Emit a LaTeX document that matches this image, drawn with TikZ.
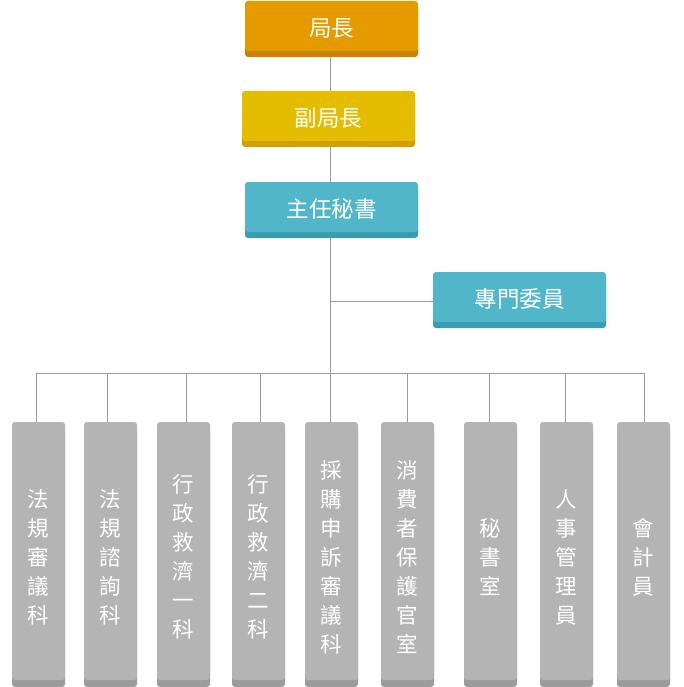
\documentclass[tikz,border=0pt]{standalone}
\usepackage{fontspec}
\setmainfont{Noto Sans CJK TC}
\usetikzlibrary{shadows}
\definecolor{cOrange}{HTML}{E59A00}
\definecolor{cOrangeD}{HTML}{CF8100}
\definecolor{cYellow}{HTML}{E4BC00}
\definecolor{cYellowD}{HTML}{D1A000}
\definecolor{cTeal}{HTML}{52B6CB}
\definecolor{cTealD}{HTML}{3A9CB0}
\definecolor{cGray}{HTML}{B4B4B4}
\definecolor{cGrayD}{HTML}{9C9C9C}
\definecolor{cLine}{HTML}{9A9A9A}
\newcommand{\vtxt}[1]{\raisebox{-6pt}[\height][\depth]{\parbox{53pt}{\centering #1}}}
\newcommand{\htxt}[1]{\raisebox{-2pt}[\height][\depth]{#1}}
\tikzset{
  box/.style={rounded corners=3pt, inner sep=0pt, text=white},
  topbox/.style={box, minimum width=173pt, minimum height=50pt, font=\fontsize{22.5}{26}\selectfont},
  unitbox/.style={box, fill=cGray, general shadow={fill=cGrayD, shadow yshift=-7pt}, minimum width=53pt, minimum height=258pt, font=\fontsize{21.5}{29}\selectfont},
  orangebox/.style={topbox, fill=cOrange, general shadow={fill=cOrangeD, shadow yshift=-6pt}},
  yellowbox/.style={topbox, fill=cYellow, general shadow={fill=cYellowD, shadow yshift=-6pt}},
  tealbox/.style={topbox, fill=cTeal, general shadow={fill=cTealD, shadow yshift=-6pt}},
  conn/.style={draw=cLine, line width=1pt}
}
\begin{document}
\begin{tikzpicture}[x=1pt,y=-1pt]
\useasboundingbox (0,0) rectangle (683,687);
% connectors first
\coordinate (trunk) at (330,57);
\coordinate (branch) at (330,301);
\coordinate (bus) at (330,373);
\coordinate (busL) at (36,373);
\coordinate (busR) at (644,373);
\draw[conn] (trunk) -- (bus);
\draw[conn] (busL) -- (busR);

\node[orangebox] (a) at (331.5,26) {\htxt{局長}};
\node[yellowbox] (b) at (328.5,116) {\htxt{副局長}};
\node[tealbox] (c) at (331.5,207) {\htxt{主任秘書}};
\node[tealbox] (d) at (519.5,297) {\htxt{專門委員}};
\draw[conn] (branch) -- (d.west |- branch);

\node[unitbox] (u1) at (38.5,551) {\vtxt{法\\規\\審\\議\\科}};
\node[unitbox] (u2) at (110.5,551) {\vtxt{法\\規\\諮\\詢\\科}};
\node[unitbox] (u3) at (183.5,551) {\vtxt{行\\政\\救\\濟\\一\\科}};
\node[unitbox] (u4) at (258.5,551) {\vtxt{行\\政\\救\\濟\\二\\科}};
\node[unitbox] (u5) at (331.5,551) {\vtxt{採\\購\\申\\訴\\審\\議\\科}};
\node[unitbox] (u6) at (407.5,551) {\vtxt{消\\費\\者\\保\\護\\官\\室}};
\node[unitbox] (u7) at (490.5,551) {\vtxt{秘\\書\\室}};
\node[unitbox] (u8) at (566.5,551) {\vtxt{人\\事\\管\\理\\員}};
\node[unitbox] (u9) at (643.5,551) {\vtxt{會\\計\\員}};

\foreach \n/\x in {u1/36,u2/107,u3/186,u4/260,u5/330,u6/407,u7/489,u8/565,u9/644}{
  \coordinate (t\n) at (\x,373);
  \draw[conn] (t\n) -- (t\n |- \n.north);
}
\end{tikzpicture}
\end{document}
